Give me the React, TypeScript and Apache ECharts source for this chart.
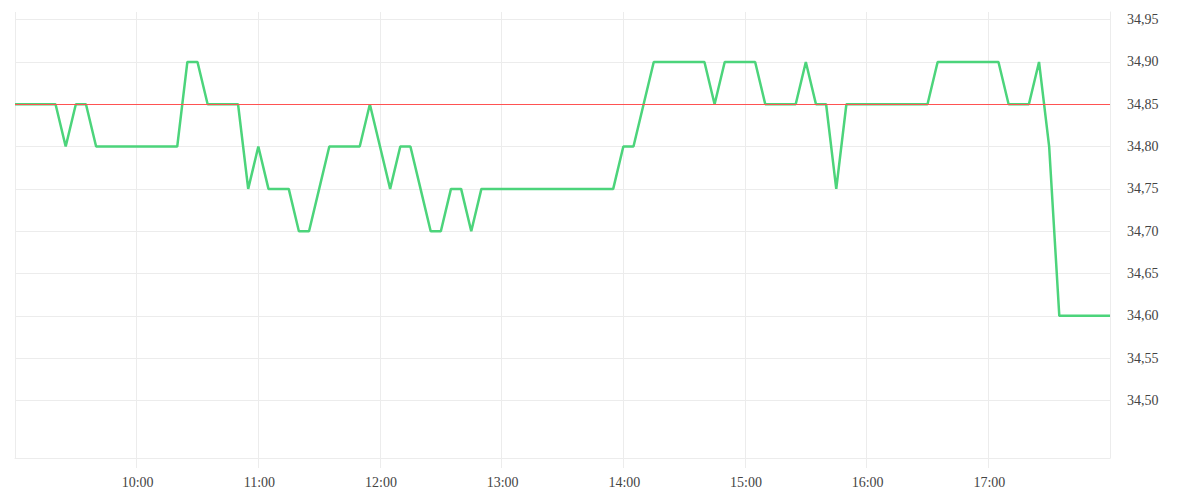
import * as echarts from "echarts";
import { useEffect, useRef } from "react";

// 5-minute closes from 9:00 to 18:00
const prices = [
  34.85, 34.85, 34.85, 34.85, 34.85, 34.8, 34.85, 34.85, 34.8, 34.8,
  34.8, 34.8, 34.8, 34.8, 34.8, 34.8, 34.8, 34.9, 34.9, 34.85,
  34.85, 34.85, 34.85, 34.75, 34.8, 34.75, 34.75, 34.75, 34.7, 34.7,
  34.75, 34.8, 34.8, 34.8, 34.8, 34.85, 34.8, 34.75, 34.8, 34.8,
  34.75, 34.7, 34.7, 34.75, 34.75, 34.7, 34.75, 34.75, 34.75, 34.75,
  34.75, 34.75, 34.75, 34.75, 34.75, 34.75, 34.75, 34.75, 34.75, 34.75,
  34.8, 34.8, 34.85, 34.9, 34.9, 34.9, 34.9, 34.9, 34.9, 34.85,
  34.9, 34.9, 34.9, 34.9, 34.85, 34.85, 34.85, 34.85, 34.9, 34.85,
  34.85, 34.75, 34.85, 34.85, 34.85, 34.85, 34.85, 34.85, 34.85, 34.85,
  34.85, 34.9, 34.9, 34.9, 34.9, 34.9, 34.9, 34.9, 34.85, 34.85,
  34.85, 34.9, 34.8, 34.6, 34.6, 34.6, 34.6, 34.6, 34.6,
];

const START_MIN = 9 * 60; // session open, minutes since midnight
const END_MIN = 18 * 60;
const STEP_MIN = 5;
const times = prices.map((_, i) => START_MIN + i * STEP_MIN);

const prevClose = 34.85;
const priceTicks = [34.5, 34.55, 34.6, 34.65, 34.7, 34.75, 34.8, 34.85, 34.9, 34.95];

const FONT = "'Liberation Serif', 'Times New Roman', serif";
const GRID_COLOR = "#ececec";
const LABEL_COLOR = "#444";

export default function App() {
  const chartRef = useRef<HTMLDivElement>(null);

  useEffect(() => {
    if (!chartRef.current) return;

    const chart = echarts.init(chartRef.current, null, { renderer: "svg" });

    const option = {
      animation: false,
      grid: { left: 15, right: 90, top: 12, bottom: 42 },
      xAxis: {
        type: "value",
        min: START_MIN,
        max: END_MIN,
        interval: 60,
        axisLine: { show: true, lineStyle: { color: GRID_COLOR, width: 1 } },
        axisTick: { show: true, length: 10, lineStyle: { color: GRID_COLOR } },
        splitLine: { show: true, lineStyle: { color: GRID_COLOR, width: 1 } },
        axisLabel: {
          showMinLabel: false,
          showMaxLabel: false,
          margin: 17,
          padding: [0, 0, 0, 2],
          color: LABEL_COLOR,
          fontFamily: FONT,
          fontSize: 14,
          formatter: (v: number) => {
            const h = Math.floor(v / 60);
            const m = v % 60;
            return `${h}:${String(m).padStart(2, "0")}`;
          },
        },
      },
      yAxis: {
        type: "value",
        position: "right",
        min: 34.432,
        max: 34.959,
        axisLine: { show: true, lineStyle: { color: GRID_COLOR, width: 1 } },
        axisTick: { show: false, customValues: priceTicks },
        splitLine: { show: true, lineStyle: { color: GRID_COLOR, width: 1 } },
        axisLabel: {
          customValues: priceTicks,
          margin: 17,
          padding: [5, 0, 0, 0],
          color: LABEL_COLOR,
          fontFamily: FONT,
          fontSize: 14,
          formatter: (v: number) => v.toFixed(2).replace(".", ","),
        },
      },
      series: [
        {
          type: "line",
          data: times.map((t, i) => [t, prices[i]]),
          showSymbol: false,
          symbol: "none",
          lineStyle: { color: "#4cd47b", width: 2.5 },
          itemStyle: { color: "#4cd47b" },
          markLine: {
            silent: true,
            symbol: "none",
            label: { show: false },
            lineStyle: { color: "#ff5252", type: "solid", width: 1 },
            data: [{ yAxis: prevClose }],
          },
        },
      ],
    };

    chart.setOption(option as echarts.EChartsOption);

    const handleResize = () => chart.resize();
    window.addEventListener("resize", handleResize);

    return () => {
      window.removeEventListener("resize", handleResize);
      chart.dispose();
    };
  }, []);

  return (
    <div
      ref={chartRef}
      style={{ position: "fixed", left: 0, top: 0, width: "1200px", height: "500px", background: "#fff" }}
    />
  );
}
